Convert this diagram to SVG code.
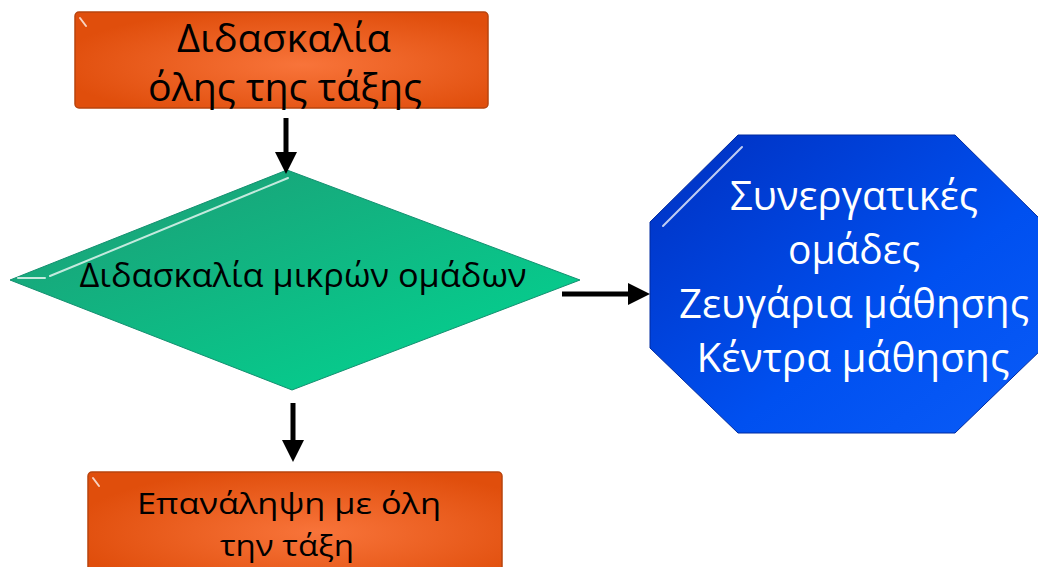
<svg xmlns="http://www.w3.org/2000/svg" width="1038" height="567" viewBox="0 0 1038 567">
<style>
.t{font-family:"Open Sans","Liberation Sans",sans-serif;text-anchor:middle;}
.dk{fill:#000}
.wh{fill:#fff}
.conn line{stroke:#000;stroke-width:5}
.hl{fill:none;stroke:#fff;stroke-opacity:0.75;stroke-width:2;stroke-linecap:round}
</style>
<defs>
<radialGradient id="gOr" cx="0.55" cy="0.55" r="0.6">
<stop offset="0" stop-color="#F8743A"/>
<stop offset="1" stop-color="#E04E0C"/>
</radialGradient>
<linearGradient id="gGr" x1="0" y1="0" x2="1" y2="1">
<stop offset="0" stop-color="#1E9A74"/>
<stop offset="1" stop-color="#00D893"/>
</linearGradient>
<linearGradient id="gBl" x1="0" y1="0" x2="1" y2="1">
<stop offset="0" stop-color="#0030C0"/>
<stop offset="0.6" stop-color="#0050F0"/>
<stop offset="1" stop-color="#0A5CF8"/>
</linearGradient>
<marker id="ah" markerWidth="4.4" markerHeight="4.4" refX="0" refY="2.2" orient="auto" markerUnits="strokeWidth">
<path d="M0,0 L4.4,2.2 L0,4.4 Z" fill="#000"/>
</marker>
</defs>

<g id="node-top">
<rect x="75" y="12" width="413" height="96" rx="4" fill="url(#gOr)" stroke="#B8440E" stroke-width="1.5"/>
<path class="hl" d="M80,18 L86,26" stroke-opacity="0.5"/>
<text class="t dk" x="284" y="52" font-size="38" textLength="214" lengthAdjust="spacingAndGlyphs">Διδασκαλία</text>
<text class="t dk" x="285" y="101" font-size="38" textLength="274" lengthAdjust="spacingAndGlyphs">όλης της τάξης</text>
</g>

<g id="node-diamond">
<polygon points="10,280 287,170 580,280 292,390" fill="url(#gGr)" stroke="#149070" stroke-width="1"/>
<path class="hl" d="M18,278 L45,278 M50,276 L288,178"/>
<text class="t dk" x="303" y="287" font-size="33" textLength="447" lengthAdjust="spacingAndGlyphs">Διδασκαλία μικρών ομάδων</text>
</g>

<g id="node-octagon">
<polygon points="738,135 955,135 1043,222 1043,348 955,433 738,433 650,348 650,222" fill="url(#gBl)" stroke="#002AA0" stroke-width="1"/>
<path class="hl" d="M663,226 L742,147"/>
<text class="t wh" x="854" y="210" font-size="40" textLength="248" lengthAdjust="spacingAndGlyphs">Συνεργατικές</text>
<text class="t wh" x="854" y="264" font-size="40" textLength="132" lengthAdjust="spacingAndGlyphs">ομάδες</text>
<text class="t wh" x="854" y="318" font-size="40" textLength="350" lengthAdjust="spacingAndGlyphs">Ζευγάρια μάθησης</text>
<text class="t wh" x="853" y="372" font-size="40" textLength="313" lengthAdjust="spacingAndGlyphs">Κέντρα μάθησης</text>
</g>

<g id="node-bottom">
<rect x="88" y="472" width="414" height="110" rx="4" fill="url(#gOr)" stroke="#B8440E" stroke-width="1.5"/>
<path class="hl" d="M93,478 L99,486" stroke-opacity="0.5"/>
<text class="t dk" x="289" y="514" font-size="30" textLength="304" lengthAdjust="spacingAndGlyphs">Επανάληψη με όλη</text>
<text class="t dk" x="287" y="556" font-size="30" textLength="134" lengthAdjust="spacingAndGlyphs">την τάξη</text>
</g>

<g id="connectors" class="conn">
<line x1="286" y1="118" x2="286" y2="152" marker-end="url(#ah)"/>
<line x1="562" y1="294" x2="628" y2="294" marker-end="url(#ah)"/>
<line x1="293" y1="403" x2="293" y2="440" marker-end="url(#ah)"/>
</g>
</svg>
